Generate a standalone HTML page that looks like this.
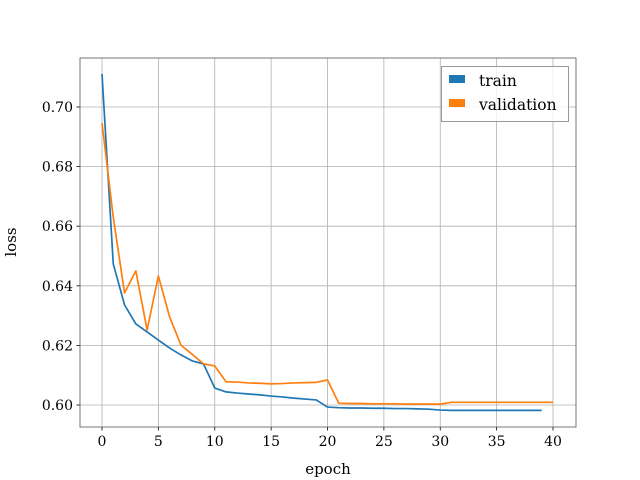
<!DOCTYPE html>
<html><head><meta charset="utf-8">
<style>body{margin:0;background:#fff}svg{display:block}text{font-family:"DejaVu Serif","Liberation Serif",serif;fill:#000}</style>
</head><body>
<svg id="chart" width="640" height="480" xmlns="http://www.w3.org/2000/svg">
<g id="grid"></g>
<g id="series"></g>
<g id="axes"></g>
<text x="328" y="474" font-size="15" text-anchor="middle">epoch</text>
<text x="16" y="242" font-size="15" text-anchor="middle" transform="rotate(-90 16 242)">loss</text>
<g>
<rect x="441.5" y="66.5" width="127" height="55" fill="#fff" fill-opacity="0.8" stroke="#999" stroke-width="1"/>
<rect x="449" y="75" width="16" height="8" fill="#1f77b4"/>
<text x="479" y="86" font-size="15.5">train</text>
<rect x="449" y="99" width="16" height="8" fill="#ff7f0e"/>
<text x="479" y="110" font-size="15.5">validation</text>
</g>
</svg>
<script>
const train = [0.7111,0.6473,0.6336,0.6272,0.6245,0.6218,0.6191,0.6168,0.6148,0.6138,0.6057,0.6044,0.6040,0.6037,0.6034,0.6030,0.6027,0.6023,0.6020,0.6017,0.5993,0.5991,0.5990,0.5990,0.5989,0.5989,0.5988,0.5988,0.5987,0.5986,0.5983,0.5982,0.5982,0.5982,0.5982,0.5982,0.5982,0.5982,0.5982,0.5982];
const validation = [0.6946,0.6630,0.6376,0.6450,0.6252,0.6433,0.6295,0.6201,0.6170,0.6138,0.6131,0.6078,0.6077,0.6074,0.6073,0.6071,0.6072,0.6074,0.6075,0.6076,0.6084,0.6006,0.6005,0.6005,0.6004,0.6004,0.6004,0.6003,0.6003,0.6003,0.6003,0.6009,0.6009,0.6009,0.6009,0.6009,0.6009,0.6009,0.6009,0.6009,0.6009];
const xTicks = [0,5,10,15,20,25,30,35,40];
const yTicks = [0.60,0.62,0.64,0.66,0.68,0.70];
const L=80,R=576,T=58,B=427;
const xs = e => 102 + e*(553-102)/40;
const ys = v => 405 - (v-0.60)*2980;
const NS="http://www.w3.org/2000/svg";
const grid=document.getElementById('grid'), axes=document.getElementById('axes'), series=document.getElementById('series');
function mk(tag,attrs,parent){const el=document.createElementNS(NS,tag);for(const k in attrs)el.setAttribute(k,attrs[k]);parent.appendChild(el);return el;}
xTicks.forEach(t=>{
  const x=xs(t);
  const g=mk('line',{x1:x,x2:x,y1:T,y2:B,stroke:'#b0b0b0','stroke-width':0.8},grid);
  
  
  const tk=mk('line',{x1:x,x2:x,y1:B,y2:B+3.5,stroke:'#000','stroke-width':0.8},axes);
  
  
  const lb=mk('text',{x:x,y:B+19,'font-size':14,'text-anchor':'middle'},axes);
  lb.textContent=t;
  
  
});
yTicks.forEach(t=>{
  const y=ys(t);
  const g=mk('line',{x1:L,x2:R,y1:y,y2:y,stroke:'#b0b0b0','stroke-width':0.8},grid);
  
  
  const tk=mk('line',{x1:L-3.5,x2:L,y1:y,y2:y,stroke:'#000','stroke-width':0.8},axes);
  
  
  const lb=mk('text',{x:L-7,y:y+5,'font-size':14,'text-anchor':'end'},axes);
  lb.textContent=t.toFixed(2);
  
  
});
const fr=mk('rect',{x:L,y:T,width:R-L,height:B-T,fill:'none',stroke:'#555','stroke-width':0.8},axes);


function line(data,color,name){
  const p=mk('polyline',{points:data.map((v,i)=>xs(i)+','+ys(v)).join(' '),fill:'none',stroke:color,'stroke-width':1.7,'stroke-linejoin':'round'},series);
  
  
}
line(train,'#1f77b4','train-line');
line(validation,'#ff7f0e','validation-line');
</script>
</body></html>
